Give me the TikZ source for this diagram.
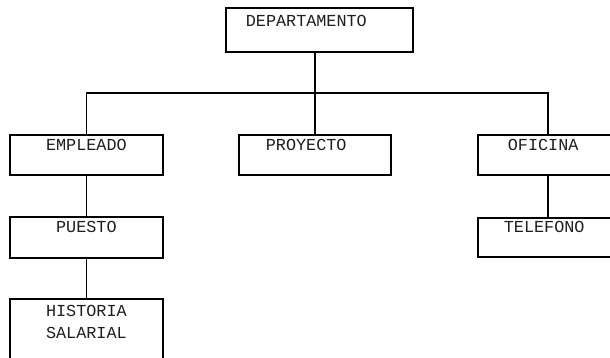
\documentclass[tikz,border=0pt]{standalone}
\usepackage{fontspec}
\setmonofont{Liberation Mono}
\usepackage{tikz}
\definecolor{tinta}{RGB}{30,30,30}
\newcommand{\letra}{\ttfamily\fontsize{16.8}{22}\selectfont}

\begin{document}
\begin{tikzpicture}[x=1pt, y=-1pt,
    caja/.style={draw, line width=1.7pt, anchor=north west, inner sep=0pt, text=tinta, font=\letra, text height=16pt, text depth=24pt},
    linea/.style={draw, line width=1.7pt}]
                \useasboundingbox (0,0) rectangle (610,357);
                \clip (0,0) rectangle (610,357);
                \node[caja, inner xsep=20pt, text width=147pt, align=left, text height=19pt, text depth=25pt] (dep) at (225,7) {DEPARTAMENTO};
                \node[caja, minimum width=153pt] (emp) at (9,134) {EMPLEADO};
                \node[caja, inner xsep=27pt, text width=98pt, align=left] (proy) at (238,134) {PROYECTO};
                \node[caja, inner xsep=30pt, text width=93pt, align=left] (ofi) at (477,134) {OFICINA};
                \node[caja, minimum width=153pt, text depth=25pt] (pue) at (9,216) {PUESTO};
                \node[caja, inner xsep=26pt, text width=101pt, align=left, text height=15pt] (tel) at (477,217) {TELEFONO};
                \node[caja, text width=153pt, align=center, text height=18pt, text depth=52pt] (hist) at (9,298) {HISTORIA\\SALARIAL};
                \coordinate (bus) at (314,93);
                \coordinate (ramal) at ([xshift=71pt]ofi.north west);
                \draw[linea] (proy.north |- dep.south) -- (proy.north);
                \draw[linea] (emp.north) -- (emp.north |- bus) -- (ramal |- bus) -- (ramal);
                \draw[linea] (emp.south) -- (pue.north);
                \draw[linea] (pue.south) -- (hist.north);
                \draw[linea] (ramal |- ofi.south) -- (ramal |- tel.north);
            \end{tikzpicture}
\end{document}
